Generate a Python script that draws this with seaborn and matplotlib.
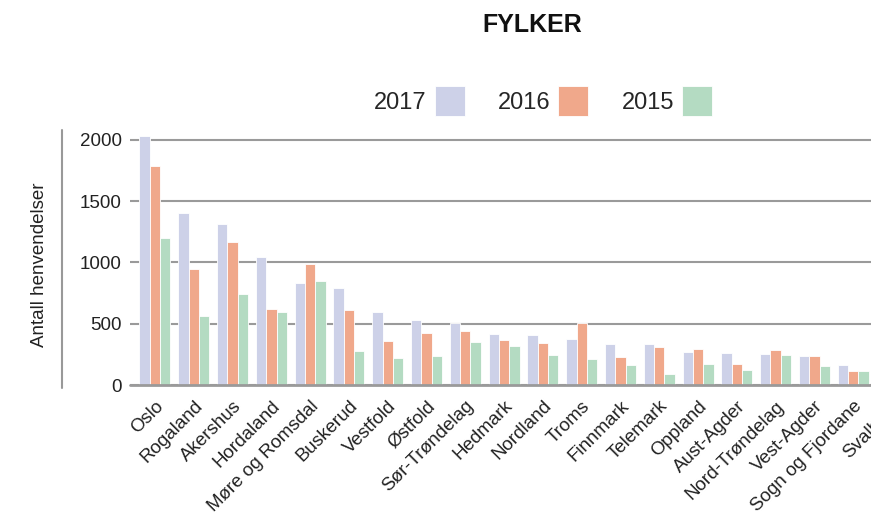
import matplotlib
matplotlib.use('Agg')
import matplotlib.pyplot as plt
from matplotlib.lines import Line2D
import seaborn as sns
import pandas as pd

fylker = ['Oslo', 'Rogaland', 'Akershus', 'Hordaland', 'Møre og Romsdal', 'Buskerud',
          'Vestfold', 'Østfold', 'Sør-Trøndelag', 'Hedmark', 'Nordland', 'Troms',
          'Finnmark', 'Telemark', 'Oppland', 'Aust-Agder', 'Nord-Trøndelag',
          'Vest-Agder', 'Sogn og Fjordane', 'Svalbard']
v2017 = [2030, 1405, 1315, 1048, 835, 794, 598, 533, 509, 419, 411, 378,
         337, 337, 272, 264, 256, 239, 166, 30]
v2016 = [1790, 950, 1167, 623, 990, 615, 362, 427, 443, 370, 345, 509,
         231, 313, 296, 174, 288, 239, 117, 20]
v2015 = [1195, 566, 745, 599, 852, 280, 223, 239, 354, 321, 247, 215,
         166, 92, 174, 125, 247, 158, 117, 15]
years = ['2017', '2016', '2015']
colors = ['#CDD1E8', '#F0A88B', '#B4DBC2']
yticks = [0, 500, 1000, 1500, 2000]

sns.set_theme(style='white')
plt.rcParams['font.family'] = ['Liberation Sans', 'DejaVu Sans']

df = pd.DataFrame({
    'Fylke': fylker * 3,
    'År': [years[0]] * len(fylker) + [years[1]] * len(fylker) + [years[2]] * len(fylker),
    'Antall': v2017 + v2016 + v2015,
})

W, H = 871, 517
fig = plt.figure(figsize=(W / 100, H / 100), dpi=100)
ax = fig.add_axes([130 / W, 132 / H, (917 - 130) / W, 255 / H])

sns.barplot(data=df, x='Fylke', y='Antall', hue='År', hue_order=years,
            palette=colors, ax=ax, width=0.8, saturation=1, errorbar=None,
            edgecolor='white', linewidth=0.6)

ax.set_xlim(-0.644, len(fylker) - 1 + 0.644)
ax.set_ylim(0, 2080)
ax.set_yticks(yticks)
ax.set_yticklabels([str(t) for t in yticks])
ax.yaxis.grid(True, color='#9a9a9a', linewidth=1.5)
ax.set_axisbelow(True)
ax.axhline(0, color='#9a9a9a', linewidth=2, zorder=5, clip_on=False)
for s in ax.spines.values():
    s.set_visible(False)
ax.tick_params(axis='both', length=0)
ax.tick_params(axis='y', labelsize=13.5, pad=6, labelcolor='#222222')
ax.tick_params(axis='x', labelsize=13.5, pad=9, labelcolor='#222222')
for lab in ax.get_xticklabels():
    lab.set_rotation(45)
    lab.set_ha('right')
    lab.set_rotation_mode('anchor')
ax.set_xlabel('')
ax.set_ylabel('')

handles, labels = ax.get_legend_handles_labels()
ax.legend(handles, labels, ncol=3, markerfirst=False, loc='center',
          bbox_to_anchor=(543 / W, 1 - 101 / H), bbox_transform=fig.transFigure,
          frameon=False, fontsize=17, handlelength=1.27, handleheight=1.58,
          handletextpad=0.34, columnspacing=1.4)

fig.text(532 / W, 1 - 25 / H, 'FYLKER', ha='center', va='center',
         fontsize=18, fontweight='bold', color='#111111')
fig.text(40 / W, 1 - 265 / H, 'Antall henvendelser', rotation=90,
         ha='center', va='center', fontsize=13.5, color='#222222')
fig.add_artist(Line2D([62 / W, 62 / W], [1 - 130 / H, 1 - 388 / H],
                      color='#999999', linewidth=1.5))

fig.savefig('out.png', dpi=100)
